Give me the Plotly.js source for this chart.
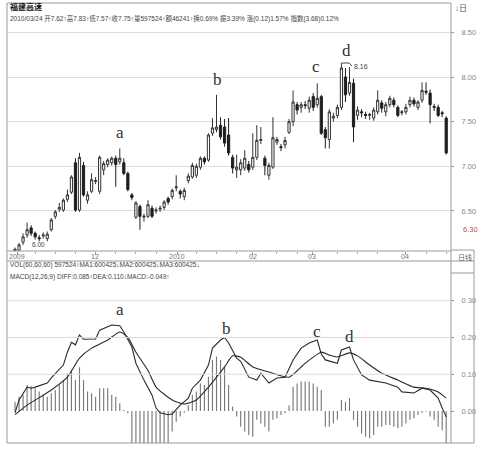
<!DOCTYPE html>
<html><head><meta charset="utf-8">
<script src="https://cdn.plot.ly/plotly-3.0.1.min.js"></script>
<style>html,body{margin:0;padding:0;background:#fff}#c{width:480px;height:449px}</style>
</head><body><div id="c"></div><script>
// ---- price candles (index = trading day) ----
const openP = [6.04,6.06,6.15,6.23,6.31,6.25,6.20,6.22,6.19,6.29, 6.44,6.52,6.51,6.63,6.71,7.04,6.51,7.01,6.62,6.72,
 6.83,6.72,6.96,7.02,7.04,7.09,7.05,7.04,6.92,6.68, 6.43,6.55,6.43,6.44,6.53,6.50,6.52,6.54,6.64,6.66,
 6.76,6.72,6.66,6.84,6.88,6.90,6.99,7.09,7.07,7.37, 7.41,7.46,7.44,7.35,7.10,6.96,6.96,6.98,7.02,6.99,
 7.10,7.29,7.09,6.90,6.99,7.27,7.22,7.24,7.38,7.50, 7.69,7.66,7.69,7.65,7.78,7.69,7.78,7.41,7.30,7.54,
 7.57,7.66,8.00,7.82,7.93,7.57,7.61,7.58,7.57,7.54, 7.61,7.71,7.61,7.69,7.74,7.66,7.60,7.61,7.69,7.74,
 7.66,7.74,7.84,7.82,7.67,7.66,7.60,7.54];
const closeP = [6.07,6.12,6.21,6.29,6.25,6.21,6.19,6.23,6.24,6.40, 6.49,6.54,6.62,6.68,6.88,6.51,7.10,6.68,6.68,6.85,
 6.84,7.10,7.03,7.07,7.09,7.02,7.09,6.92,6.74,6.65, 6.59,6.44,6.44,6.57,6.44,6.51,6.53,6.60,6.60,6.73,
 6.77,6.69,6.73,6.89,7.01,7.00,7.09,7.05,7.35,7.43, 7.44,7.33,7.26,7.15,6.98,6.99,7.04,7.09,6.96,7.10,
 7.29,7.30,7.01,7.01,7.32,7.30,7.21,7.29,7.50,7.72, 7.63,7.69,7.68,7.74,7.66,7.76,7.37,7.32,7.61,7.56,
 7.66,8.10,7.80,7.94,7.44,7.63,7.60,7.57,7.58,7.63, 7.74,7.65,7.69,7.76,7.69,7.57,7.61,7.66,7.74,7.70,
 7.72,7.85,7.83,7.69,7.66,7.57,7.59,7.15];
const highP = [6.09,6.14,6.25,6.37,6.34,6.27,6.23,6.26,6.27,6.42, 6.51,6.59,6.64,6.74,6.90,7.09,7.15,7.05,6.72,6.92,
 6.88,7.12,7.06,7.09,7.11,7.12,7.20,7.09,6.94,6.70, 6.61,6.57,6.47,6.62,6.56,6.54,6.56,6.62,6.66,6.75,
 6.90,6.74,6.76,6.92,7.04,7.03,7.11,7.11,7.37,7.54, 7.80,7.55,7.53,7.54,7.13,7.13,7.08,7.18,7.06,7.37,
 7.46,7.44,7.12,7.04,7.55,7.33,7.25,7.33,7.53,7.85, 7.72,7.72,7.73,7.78,7.82,7.93,7.80,7.44,7.64,7.60,
 7.69,8.16,8.10,8.11,7.98,7.67,7.64,7.61,7.60,7.66, 7.85,7.74,7.72,7.79,7.77,7.68,7.63,7.70,7.78,7.77,
 7.74,7.94,7.94,7.86,7.70,7.69,7.62,7.56];
const lowP = [6.02,6.04,6.12,6.20,6.22,6.18,6.16,6.19,6.16,6.27, 6.41,6.49,6.49,6.60,6.69,6.49,6.49,6.66,6.58,6.70,
 6.80,6.69,6.90,6.99,7.01,6.77,7.02,6.90,6.72,6.62, 6.41,6.29,6.38,6.42,6.42,6.47,6.49,6.51,6.57,6.63,
 6.72,6.64,6.62,6.81,6.86,6.87,6.96,7.02,7.05,7.34, 7.38,7.30,7.22,7.12,6.92,6.87,6.90,6.95,6.93,6.96,
 7.07,7.25,6.90,6.85,6.97,7.24,7.17,7.20,7.36,7.45, 7.58,7.60,7.64,7.60,7.62,7.66,7.35,7.20,7.20,7.50,
 7.54,7.63,7.72,7.79,7.27,7.52,7.55,7.53,7.52,7.51, 7.58,7.60,7.56,7.66,7.66,7.55,7.57,7.58,7.66,7.67,
 7.63,7.71,7.80,7.48,7.62,7.55,7.55,7.13];
// ---- MACD panel (read at sampled days) ----
const diffX = [0,1,3,4,5,8,9,12,13,14,15,16,17,18,20,21,23,24,26,27,29,30,32,34,35,36,38,39,41,43,44,46,48,49,51,52,53,55,56,58,60,61,63,65,67,69,71,73,75,76,77,80,81,82,83,84,86,88,90,92,95,96,99,101,103,105,106,107];
const diffY = [-0.005,0.03,0.065,0.062,0.065,0.076,0.09,0.125,0.16,0.187,0.18,0.207,0.195,0.195,0.196,0.22,0.228,0.234,0.232,0.215,0.174,0.13,0.084,0.043,0.008,-0.005,-0.01,-0.008,0.016,0.035,0.062,0.084,0.125,0.171,0.193,0.20,0.185,0.144,0.135,0.092,0.084,0.103,0.076,0.09,0.092,0.139,0.171,0.185,0.193,0.155,0.139,0.13,0.166,0.171,0.174,0.139,0.098,0.084,0.079,0.076,0.065,0.052,0.049,0.062,0.057,0.035,0.008,-0.016];
const deaX = [0,3,7,9,13,16,19,23,26,28,30,33,35,39,42,45,48,52,54,56,59,63,68,72,76,78,80,83,85,88,91,95,99,102,105,107];
const deaY = [-0.01,0.016,0.043,0.057,0.092,0.144,0.171,0.193,0.215,0.20,0.16,0.11,0.065,0.03,0.019,0.03,0.065,0.12,0.15,0.146,0.12,0.106,0.092,0.13,0.16,0.152,0.147,0.158,0.15,0.125,0.103,0.084,0.065,0.062,0.052,0.035];
const macdBar = [0.025,0.039,0.044,0.071,0.068,0.062,0.053,0.044,0.039,0.048,
 0.057,0.071,0.084,0.102,0.112,0.084,0.119,0.084,0.053,0.048,
 0.039,0.062,0.062,0.062,0.044,0.039,0.021,0.003,-0.006,-0.09,
 -0.12,-0.15,-0.17,-0.18,-0.18,-0.16,-0.14,-0.12,-0.09,-0.056,
 -0.029,-0.015,-0.005,0.016,0.044,0.053,0.075,0.071,0.093,0.139,
 0.148,0.139,0.12,0.071,0.012,-0.015,-0.043,-0.056,-0.065,-0.07,
 -0.024,-0.034,-0.043,-0.056,-0.024,-0.02,-0.011,-0.006,0.016,0.066,
 0.075,0.08,0.08,0.08,0.075,0.066,0.057,-0.043,-0.043,-0.034,
 -0.024,0.03,0.025,0.035,-0.024,-0.043,-0.061,-0.07,-0.074,-0.065,
 -0.043,-0.043,-0.038,-0.038,-0.043,-0.047,-0.043,-0.034,-0.024,-0.02,
 -0.011,-0.005,-0.002,-0.015,-0.024,-0.043,-0.052,-0.10];
// ---- tick labels ----
const monthPos = [0.5,19.9,40.2,59,73.7,96.8];
const monthText = ['2009','12','2010','02','03','04'];
const priceTicks = [6.5,7.0,7.5,8.0,8.5];
const priceTickText = ['6.50','7.00','7.50','8.00','8.50'];
const macdTicks = [0,0.1,0.2,0.3];
const macdTickText = ['0.00','0.10','0.20','0.30'];
const header1 = '福建高速';
const header2 = '2010/03/24 开7.62↑高7.83↑低7.57↑收7.75↑量597524↑额46241↑换0.69% 振3.39% 涨(0.12)1.57% 指数(3.68)0.12%';
const volText = 'VOL(60,60,60) 597524↑MA1:600425↓MA2:600425↓MA3:600425↓';
const macdText = 'MACD(12,26,9) DIFF:0.085↑DEA:0.110↓MACD:-0.049↑';

const W=480,H=449;
const px=x=>x/W, py=y=>1-y/H;
const idx = openP.map((_,i)=>i);
const FONT = 'Liberation Sans, Noto Sans CJK SC, sans-serif';

const traces = [
 {type:'candlestick', x:idx, open:openP, high:highP, low:lowP, close:closeP, xaxis:'x', yaxis:'y',
  increasing:{line:{color:'#333',width:1}, fillcolor:'#ffffff'},
  decreasing:{line:{color:'#1e1e1e',width:1}, fillcolor:'#1e1e1e'},
  whiskerwidth:0, hoverinfo:'skip', showlegend:false},
 {type:'bar', x:idx, y:macdBar, xaxis:'x2', yaxis:'y2', width:0.28,
  marker:{color:'#777', line:{width:0}}, hoverinfo:'skip', showlegend:false},
 {type:'scatter', mode:'lines', x:diffX, y:diffY, xaxis:'x2', yaxis:'y2',
  line:{color:'#2a2a2a', width:1.1}, hoverinfo:'skip', showlegend:false},
 {type:'scatter', mode:'lines', x:deaX, y:deaY, xaxis:'x2', yaxis:'y2',
  line:{color:'#2a2a2a', width:1.1, shape:'spline', smoothing:0.6}, hoverinfo:'skip', showlegend:false}
];

const xr = [-1.74, 107.94];
const pr = [6.0515, 8.5935];
const mr = [-0.087, 0.3427];

const shapes = [];
function L(x0,y0,x1,y1,c,w){shapes.push({type:'line',xref:'paper',yref:'paper',x0:px(x0),y0:py(y0),x1:px(x1),y1:py(y1),line:{color:c||'#888',width:w||1}});}
// frame
L(7,3,451,3,'#999');
L(7,3,7,443,'#999');
L(451,3,451,443,'#999');
L(7,251,451,251,'#999');
L(7,261,451,261,'#999');
L(7,443,451,443,'#999');
L(451,261,474,261,'#999');
L(474,250,474,273,'#999');
L(451,250,474,250,'#999');
L(451,273,474,273,'#999');
L(474,273,474,443,'#999');
L(451,443,474,443,'#999');
// macd grid
macdTicks.slice(1).forEach(v=>shapes.push({type:'line',xref:'paper',yref:'y2',x0:px(7),x1:px(451),y0:v,y1:v,line:{color:'#dcdcdc',width:1}}));
// 8.16 marker
L(342,63,349,63,'#444');
L(349,63,352,66,'#444');

const ann = [];
function T(x,y,t,sz,col,fam,xa,extra){ann.push(Object.assign({xref:'paper',yref:'paper',x:px(x),y:py(y),text:t,showarrow:false,xanchor:xa||'left',yanchor:'middle',font:{size:sz,color:col||'#333',family:fam||FONT}},extra||{}));}
T(8,7,'<b>'+header1+'</b>',8,'#111','Noto Sans CJK SC');
T(8,18.5,header2,6.5,'#444',FONT);
T(8,265,volText,6.5,'#444',FONT);
T(8,277,macdText,6.5,'#444',FONT);
T(453,8,'↓日',8,'#555',FONT);
T(456,257,'日线',7,'#666','Noto Sans CJK SC');
T(461,229,'6.30',7.5,'#c0504d',FONT);
T(352,66,'8.16',7,'#444',FONT);
T(30,244,'6.00',6.5,'#444',FONT);
monthPos.forEach((p,i)=>ann.push({xref:'x',yref:'paper',x:p,y:py(256.5),text:monthText[i],showarrow:false,xanchor:'center',yanchor:'middle',font:{size:7,color:'#777',family:FONT}}));
const SER='Liberation Serif, DejaVu Serif, serif';
T(120,132,'a',17,'#333',SER,'center');
T(217,80,'b',17,'#333',SER,'center');
T(316,66,'c',17,'#333',SER,'center');
T(346,51,'d',17,'#333',SER,'center');
T(120,309,'a',17,'#333',SER,'center');
T(226,328,'b',17,'#333',SER,'center');
T(317,331,'c',17,'#333',SER,'center');
T(349,336,'d',17,'#333',SER,'center');

const layout = {
 width:W, height:H, margin:{l:0,r:0,t:0,b:0}, paper_bgcolor:'#fff', plot_bgcolor:'#fff',
 showlegend:false, dragmode:false, boxgap:0.22,
 xaxis:{domain:[px(8),px(450)], range:xr, showgrid:false, zeroline:false, showticklabels:false,
   rangeslider:{visible:false}, ticks:'outside', ticklen:3, tickcolor:'#999', tickvals:monthPos,
   minor:{tickvals:[5,10,15,25,30,35,45,50,55,65,70,80,85,90,102,107], ticks:'outside', ticklen:2, tickcolor:'#aaa'}},
 yaxis:{domain:[py(251),py(24)], range:pr, side:'right', tickvals:priceTicks, ticktext:priceTickText,
   showgrid:true, gridcolor:'#dcdcdc', gridwidth:1, zeroline:false, ticks:'outside', ticklen:3, tickcolor:'#999',
   tickfont:{size:7.5,color:'#888',family:FONT}, ticklabelstandoff:6, fixedrange:true},
 xaxis2:{domain:[px(8),px(450)], range:xr, anchor:'y2', showgrid:false, zeroline:false, showticklabels:false, ticks:''},
 yaxis2:{domain:[py(443),py(285)], range:mr, side:'right', anchor:'x2', tickvals:macdTicks, ticktext:macdTickText,
   showgrid:false, zeroline:false, ticks:'outside', ticklen:3, tickcolor:'#999',
   tickfont:{size:7.5,color:'#888',family:FONT}, ticklabelstandoff:6},
 shapes:shapes, annotations:ann
};
Plotly.newPlot('c', traces, layout, {staticPlot:true, displayModeBar:false});
</script></body></html>
